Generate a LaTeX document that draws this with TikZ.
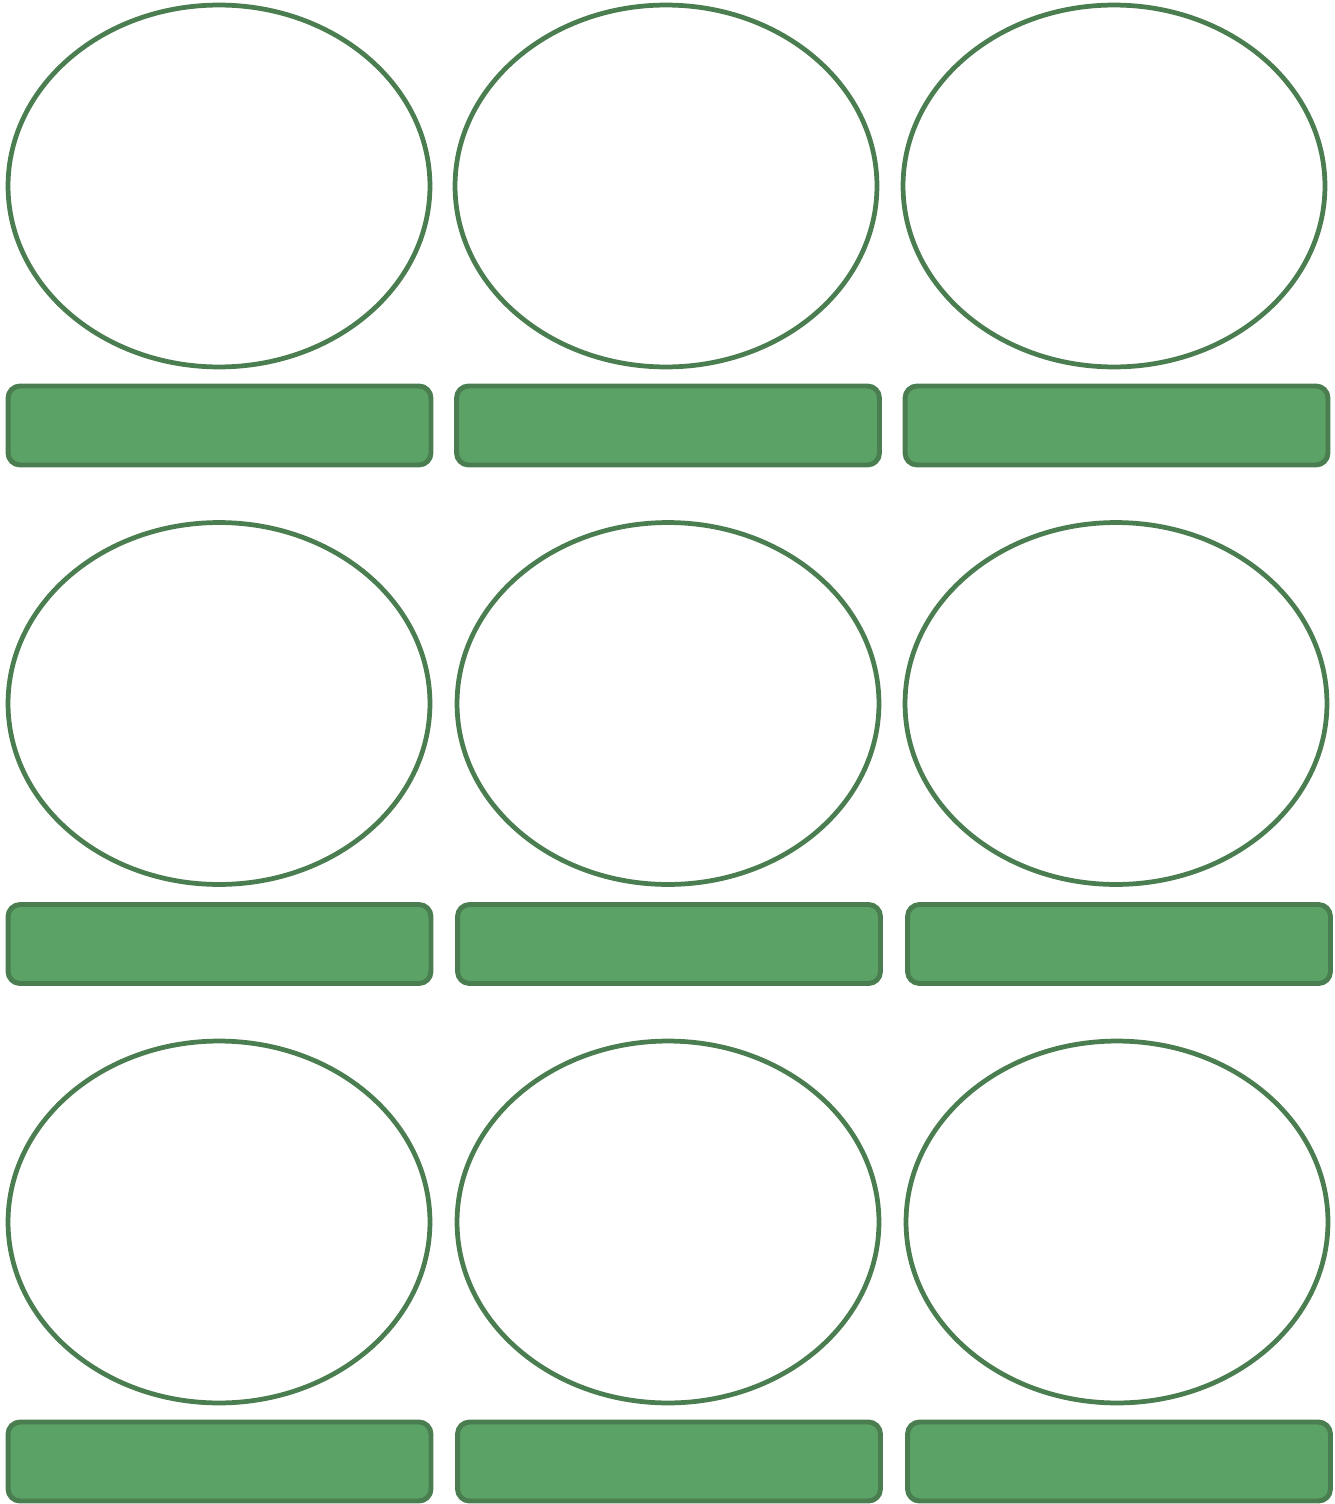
\documentclass[tikz,border=0pt]{standalone}
\usetikzlibrary{shapes.geometric,positioning}

\definecolor{leafline}{HTML}{4A7D4F}
\definecolor{leaffill}{HTML}{5BA266}

\begin{document}
\begin{tikzpicture}[
    x=0.02cm,
    y=-0.02cm,
    line join=round,
    slot/.style={
        ellipse,
        draw=leafline,
        line width=2.7pt,
        fill=white,
        minimum width=8.44cm,
        minimum height=7.24cm,
        inner sep=0pt
    },
    bar/.style={
        draw=leafline,
        line width=2.8pt,
        fill=leaffill,
        rounded corners=0.24cm,
        minimum width=8.46cm,
        minimum height=1.58cm,
        inner sep=0pt
    }
]

\useasboundingbox (0,0) rectangle (1335,1504);

% First row.
\node[slot] (slotA1) at (219,186) {};
\node[slot] (slotA2) at (666,186) {};
\node[slot] (slotA3) at (1114,186) {};
\node[bar] (barA1) at (219.5,425.5) {};
\node[bar] (barA2) at (668,425.5) {};
\node[bar] (barA3) at (1116.5,425.5) {};

% Second row.
\node[slot] (slotB1) at (219,703.5) {};
\node[slot] (slotB2) at (668,703.5) {};
\node[slot] (slotB3) at (1116,703.5) {};
\node[bar] (barB1) at (219.5,944) {};
\node[bar] (barB2) at (669,944) {};
\node[bar] (barB3) at (1119,944) {};

% Third row.
\node[slot] (slotC1) at (219,1222) {};
\node[slot] (slotC2) at (668,1222) {};
\node[slot] (slotC3) at (1117,1222) {};
\node[bar] (barC1) at (219.5,1461.5) {};
\node[bar] (barC2) at (669,1461.5) {};
\node[bar] (barC3) at (1119,1461.5) {};

\end{tikzpicture}
\end{document}
